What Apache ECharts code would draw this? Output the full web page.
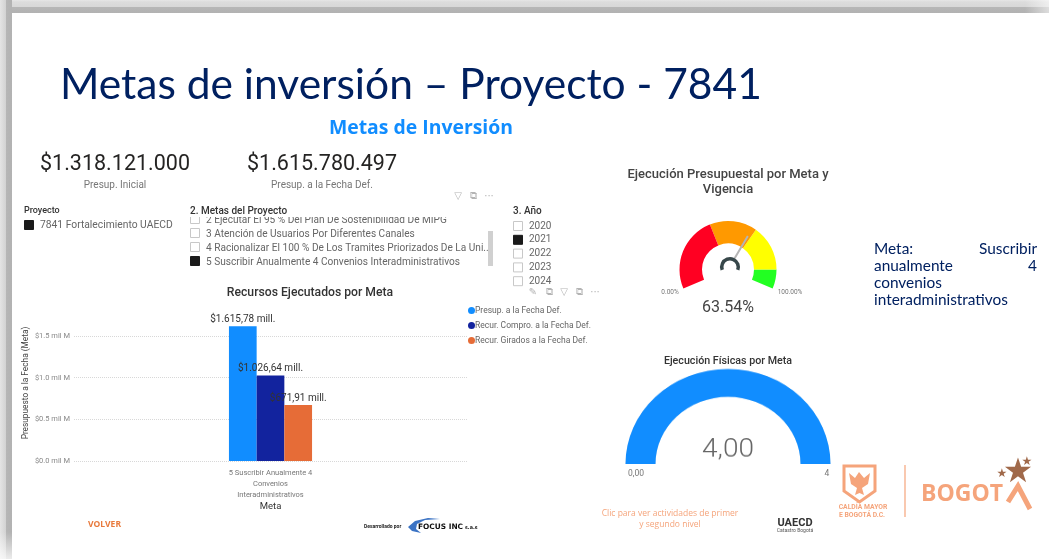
<!DOCTYPE html>
<html>
<head>
<meta charset="utf-8">
<style>
html, body { margin: 0; padding: 0; background: #fff; overflow: hidden; }
#arc, #main { position: absolute; left: 0; top: 0; width: 1049px; height: 559px; }
/* the slide was squashed a little, so the physical gauge is not a true circle */
#arc { transform-origin: 0 464px; transform: scaleY(0.927); }
</style>
<script src="https://cdn.jsdelivr.net/npm/echarts@6/dist/echarts.min.js"></script>
</head>
<body>
<div id="arc"></div>
<div id="main"></div>
<script>
// Bar chart data (millions of pesos)
const metaCategories = ['5 Suscribir Anualmente 4\nConvenios\nInteradministrativos'];
const presupValues = [1615.78];
const comproValues = [1026.64];
const giradosValues = [671.91];
const seriesNames = ['Presup. a la Fecha Def.', 'Recur. Compro. a la Fecha Def.', 'Recur. Girados a la Fecha Def.'];
const yTickLabels = { 0: '$0.0 mil M', 500: '$0.5 mil M', 1000: '$1.0 mil M', 1500: '$1.5 mil M' };

// Gauges
const ejecucionPct = [63.54];
const ejecucionStops = [0.403, 0.655, 0.898, 1];
const ejecucionColors = ['#FF0022', '#FF9900', '#FFFF00', '#22FF22'];
const fisicaValue = [4];
const fisicaMax = 4;

// Cards and slicers
const cards = [['$1.318.121.000', 'Presup. Inicial'], ['$1.615.780.497', 'Presup. a la Fecha Def.']];
const metasList = ['2 Ejecutar El 95 % Del Plan De Sostenibilidad De MIPG', '3 Atención de Usuarios Por Diferentes Canales', '4 Racionalizar El 100 % De Los Tramites Priorizados De La Uni...', '5 Suscribir Anualmente 4 Convenios Interadministrativos'];
const anios = ['2020', '2021', '2022', '2023', '2024'];

const FONT = 'Roboto';
const BLUE = '#118DFF';
const NAVY = '#002060';
const PEACH = '#F5A47B';
const BROWN = '#A0694A';

function txt(x, y, text, size, color, extra) {
    return {
        type: 'text', x: x, y: y, silent: true,
        style: Object.assign({ text: text, fontFamily: FONT, fontSize: size, fill: color, verticalAlign: 'middle', align: 'left' }, extra || {})
    };
}
function box(x, y, checked) {
    return {
        type: 'rect', silent: true,
        shape: { x: x + 0.5, y: y + 0.5, width: 9, height: 9 },
        style: { fill: checked ? '#1a1a1a' : '#fff', stroke: checked ? '#1a1a1a' : '#c8c8c8', lineWidth: 1 }
    };
}
function icon(x, y, glyph) {
    return txt(x, y, glyph, 10, '#b4b4b4', { fontFamily: 'DejaVu Sans', align: 'center' });
}
function grad(x2, y2, stops) {
    return new echarts.graphic.LinearGradient(0, 0, x2, y2, stops);
}

let g = [];

// slide frame shadow, two soft steps of grey
g.push({ type: 'rect', silent: true, shape: { x: 0, y: 0, width: 1049, height: 13 },
    style: { fill: grad(0, 1, [{ offset: 0, color: '#e6e6e6' }, { offset: 0.15, color: '#dcdcdc' }, { offset: 0.5, color: '#d8d8d8' }, { offset: 0.56, color: '#b6b6b6' }, { offset: 1, color: '#b2b2b2' }]) } });
g.push({ type: 'rect', silent: true, shape: { x: 0, y: 0, width: 12, height: 559 },
    style: { fill: grad(1, 0, [{ offset: 0, color: '#e4e4e4' }, { offset: 0.5, color: '#d2d2d2' }, { offset: 0.52, color: '#b6b6b6' }, { offset: 1, color: '#b2b2b2' }]) } });
g.push({ type: 'rect', silent: true, shape: { x: 0, y: 532, width: 12, height: 27 },
    style: { fill: grad(0, 1, [{ offset: 0, color: 'rgba(255,255,255,0)' }, { offset: 1, color: 'rgba(255,255,255,0.75)' }]) } });
g.push({ type: 'rect', silent: true, shape: { x: 1025, y: 0, width: 24, height: 13 },
    style: { fill: grad(1, 0, [{ offset: 0, color: 'rgba(255,255,255,0)' }, { offset: 1, color: 'rgba(255,255,255,0.55)' }]) } });

// headings
g.push(txt(60, 85, 'Metas de inversión – Proyecto - 7841', 42.5, NAVY, { fontFamily: 'Lato' }));
g.push(txt(421, 128, 'Metas de Inversión', 19.4, BLUE, { fontFamily: 'Open Sans', fontWeight: 'bold', align: 'center' }));

// cards
cards.forEach((c, i) => {
    let cx = i === 0 ? 115 : 322;
    g.push(txt(cx, 165, c[0], 21.5, '#252423', { align: 'center' }));
    g.push(txt(cx, 185, c[1], 10, '#777', { align: 'center' }));
});

// Proyecto slicer
g.push(txt(24, 211, 'Proyecto', 9, '#333', { fontWeight: 500 }));
g.push(box(24, 220, true));
g.push(txt(40, 225, '7841 Fortalecimiento UAECD', 10.3, '#666'));

// Metas slicer, first row is cut by the header
metasList.forEach((m, i) => {
    let y = 219 + i * 14;
    g.push(box(190, y - 5, i === 3));
    g.push(txt(206, y + 1, m, 10.1, '#666'));
});
g.push({ type: 'rect', silent: true, shape: { x: 185, y: 205, width: 300, height: 12 }, style: { fill: '#fff' } });
g.push(txt(190, 211, '2. Metas del Proyecto', 10, '#333', { fontWeight: 500 }));
g.push({ type: 'rect', silent: true, shape: { x: 488, y: 231, width: 5, height: 35 }, style: { fill: '#d0d0d0' } });

// Año slicer
g.push(txt(513, 211, '3. Año', 10, '#333', { fontWeight: 500 }));
anios.forEach((a, i) => {
    let y = 226 + i * 13.8;
    g.push(box(513, y - 5, a === '2021'));
    g.push(txt(529, y, a, 10, '#666'));
});

// visual header icons
g.push(icon(458, 196, '▽'), icon(473, 196, '⧉'), icon(489, 196, '···'));
g.push(icon(533, 292, '✎'), icon(549, 292, '⧉'), icon(564, 292, '▽'), icon(579, 292, '⧉'), icon(595, 292, '···'));

// chart titles
g.push(txt(310, 293, 'Recursos Ejecutados por Meta', 12.2, '#333', { align: 'center', fontWeight: 500 }));
g.push(txt(728, 175, 'Ejecución Presupuestal por Meta y', 13, '#444', { align: 'center', fontWeight: 500 }));
g.push(txt(728, 190, 'Vigencia', 13, '#444', { align: 'center', fontWeight: 500 }));
g.push(txt(728, 361, 'Ejecución Físicas por Meta', 10.7, '#333', { align: 'center', fontWeight: 500 }));

// gauge end labels
g.push(txt(670, 292, '0.00%', 6.5, '#777', { align: 'center' }));
g.push(txt(790, 292, '100.00%', 6.5, '#777', { align: 'center' }));
g.push(txt(636, 474, '0,00', 8.5, '#777', { align: 'center' }));
g.push(txt(827, 474, String(fisicaMax), 8.5, '#777', { align: 'center' }));

// meta text, justified by hand
const metaFont = { fontFamily: 'Lato' };
g.push(txt(874, 249, 'Meta:', 15.4, NAVY, metaFont));
g.push(txt(1037, 249, 'Suscribir', 15.4, NAVY, { fontFamily: 'Lato', align: 'right' }));
g.push(txt(874, 266, 'anualmente', 15.4, NAVY, metaFont));
g.push(txt(1037, 266, '4', 15.4, NAVY, { fontFamily: 'Lato', align: 'right' }));
g.push(txt(874, 283, 'convenios', 15.4, NAVY, metaFont));
g.push(txt(874, 300, 'interadministrativos', 15.4, NAVY, metaFont));

// footer left
g.push(txt(88, 525, 'VOLVER', 8.5, '#E8793B', { fontWeight: 'bold', fontFamily: 'Open Sans' }));
g.push(txt(364, 527, 'Desarrollado por', 5, '#222', { fontWeight: 'bold' }));
g.push({ type: 'polygon', silent: true, shape: { points: [[408, 527], [415, 521], [428, 518], [440, 519], [425, 520], [417, 524], [416, 529], [421, 533], [412, 531]] }, style: { fill: '#3b73c4' } });
g.push(txt(418, 527, 'FOCUS INC', 7.4, '#111', { fontWeight: 'bold', fontFamily: 'DejaVu Sans' }));
g.push(txt(465, 528, 's.a.s', 4.8, '#111', { fontWeight: 'bold', fontFamily: 'DejaVu Sans' }));

// footer right
g.push(txt(670, 514, 'Clic para ver actividades de primer', 8.5, PEACH, { align: 'center', fontFamily: 'Open Sans' }));
g.push(txt(670, 525, 'y segundo nivel', 8.5, PEACH, { align: 'center', fontFamily: 'Open Sans' }));
g.push(txt(795, 523, 'UAECD', 11, '#333', { align: 'center', fontWeight: 'bold', fontFamily: 'Roboto' }));
g.push(txt(795, 531, 'Catastro Bogotá', 5, '#555', { align: 'center' }));

// Bogotá logos
g.push({ type: 'polygon', silent: true, shape: { points: [[844, 466], [875, 466], [875, 491], [859.5, 502], [844, 491]] }, style: { fill: '#fff', stroke: PEACH, lineWidth: 3 } });
g.push({ type: 'polygon', silent: true, shape: { points: [[849, 473], [855, 478], [859, 472], [864, 478], [870, 473], [868, 484], [862, 488], [864, 495], [859.5, 493], [855, 495], [857, 488], [851, 484]] }, style: { fill: PEACH } });
g.push(txt(863, 507, 'CALDÍA MAYOR', 6.8, PEACH, { align: 'center', fontWeight: 'bold' }));
g.push(txt(862, 515, 'E BOGOTÁ D.C.', 6.8, PEACH, { align: 'center', fontWeight: 'bold' }));
g.push({ type: 'line', silent: true, shape: { x1: 905, y1: 465, x2: 905, y2: 517 }, style: { stroke: PEACH, lineWidth: 1.2 } });
g.push(txt(921, 494, 'BOGOT', 23, PEACH, { fontWeight: 'bold', fontFamily: 'Open Sans' }));
g.push({ type: 'polyline', silent: true, shape: { points: [[1008, 502], [1018, 486], [1030, 509]] }, style: { stroke: PEACH, lineWidth: 5, fill: 'none' } });
g.push(txt(1018, 473, '★', 34, BROWN, { align: 'center', fontFamily: 'DejaVu Sans' }));
g.push(txt(1002, 474, '★', 12, BROWN, { align: 'center', fontFamily: 'DejaVu Sans' }));
g.push(txt(1027, 462, '★', 12, BROWN, { align: 'center', fontFamily: 'DejaVu Sans' }));

function millLabel(p) {
    return '$' + p.value.toLocaleString('de-DE', { minimumFractionDigits: 2 }) + ' mill.';
}
function barSeries(name, values, color) {
    return {
        name: name, type: 'bar', data: values, barWidth: 27.7, barGap: 0,
        itemStyle: { color: color },
        label: { show: true, position: 'top', distance: 2, formatter: millLabel, fontFamily: FONT, fontSize: 10, color: '#333' },
        z: 2
    };
}

let option = {
    animation: false,
    graphic: g,
    legend: {
        orient: 'vertical', left: 463, top: 301, itemWidth: 7, itemHeight: 7, itemGap: 6, icon: 'circle',
        textStyle: { fontFamily: FONT, fontSize: 8.5, color: '#666', padding: [0, 0, 0, -5] },
        data: seriesNames
    },
    grid: { left: 74, top: 311, width: 393, height: 150 },
    xAxis: {
        type: 'category', data: metaCategories,
        axisLine: { show: false }, axisTick: { show: false },
        axisLabel: { interval: 0, fontFamily: FONT, fontSize: 7.5, color: '#777', lineHeight: 11, margin: 7 },
        name: 'Meta', nameLocation: 'middle', nameGap: 35,
        nameTextStyle: { fontFamily: FONT, fontSize: 9.5, color: '#333' }
    },
    yAxis: {
        type: 'value', min: 0, max: 1800, interval: 500,
        axisLine: { show: false }, axisTick: { show: false },
        axisLabel: { showMaxLabel: false, fontFamily: FONT, fontSize: 7.5, color: '#888', margin: 4, formatter: v => yTickLabels[v] || '' },
        splitLine: { showMaxLine: false, lineStyle: { type: 'dotted', color: '#d8d8d8', width: 1 } },
        name: 'Presupuesto a la Fecha (Meta)', nameLocation: 'middle', nameRotate: 90, nameGap: 44,
        nameTextStyle: { fontFamily: FONT, fontSize: 8.3, color: '#444', padding: [0, 0, 0, 6] }
    },
    series: [
        barSeries(seriesNames[0], presupValues, BLUE),
        barSeries(seriesNames[1], comproValues, '#12239E'),
        barSeries(seriesNames[2], giradosValues, '#E66C37'),
        {
            type: 'gauge', center: [728, 269.5], radius: 48.5, startAngle: 203, endAngle: -23, min: 0, max: 100,
            data: ejecucionPct.map(v => ({ value: v })),
            axisLine: { lineStyle: { width: 22.5, color: ejecucionStops.map((s, i) => [s, ejecucionColors[i]]) } },
            axisTick: { show: false }, splitLine: { show: false }, axisLabel: { show: false },
            pointer: { icon: 'rect', width: 2, length: 39, itemStyle: { color: '#b5b5b5' } },
            anchor: { show: true, showAbove: true, size: 26, itemStyle: { color: '#fff' } },
            title: { show: false },
            detail: { offsetCenter: [0, 38], fontFamily: FONT, fontSize: 16, fontWeight: 400, color: '#444', formatter: v => v.toFixed(2) + '%' }
        },
        {
            // little dark hub on top of the needle
            type: 'gauge', center: [730, 267], radius: 10, startAngle: 200, endAngle: -20, z: 5,
            data: [],
            axisLine: { lineStyle: { width: 3.5, color: [[1, '#37474a']] } },
            axisTick: { show: false }, splitLine: { show: false }, axisLabel: { show: false },
            pointer: { show: false }, title: { show: false }, detail: { show: false }
        }
    ]
};

let arcOption = {
    animation: false,
    series: [{
        type: 'gauge', center: [728, 464], radius: 102.5, startAngle: 180, endAngle: 0, min: 0, max: fisicaMax,
        data: fisicaValue.map(v => ({ value: v })),
        axisLine: { lineStyle: { width: 30, color: [[1, '#e6e6e6']] } },
        progress: { show: true, width: 30, itemStyle: { color: BLUE } },
        axisTick: { show: false }, splitLine: { show: false }, axisLabel: { show: false },
        pointer: { show: false }, title: { show: false },
        detail: { offsetCenter: [0, -15.5], fontFamily: FONT, fontSize: 28, fontWeight: 300, color: '#666', formatter: v => v.toFixed(2).replace('.', ',') }
    }]
};

echarts.init(document.getElementById('arc')).setOption(arcOption);
echarts.init(document.getElementById('main')).setOption(option);
</script>
</body>
</html>
